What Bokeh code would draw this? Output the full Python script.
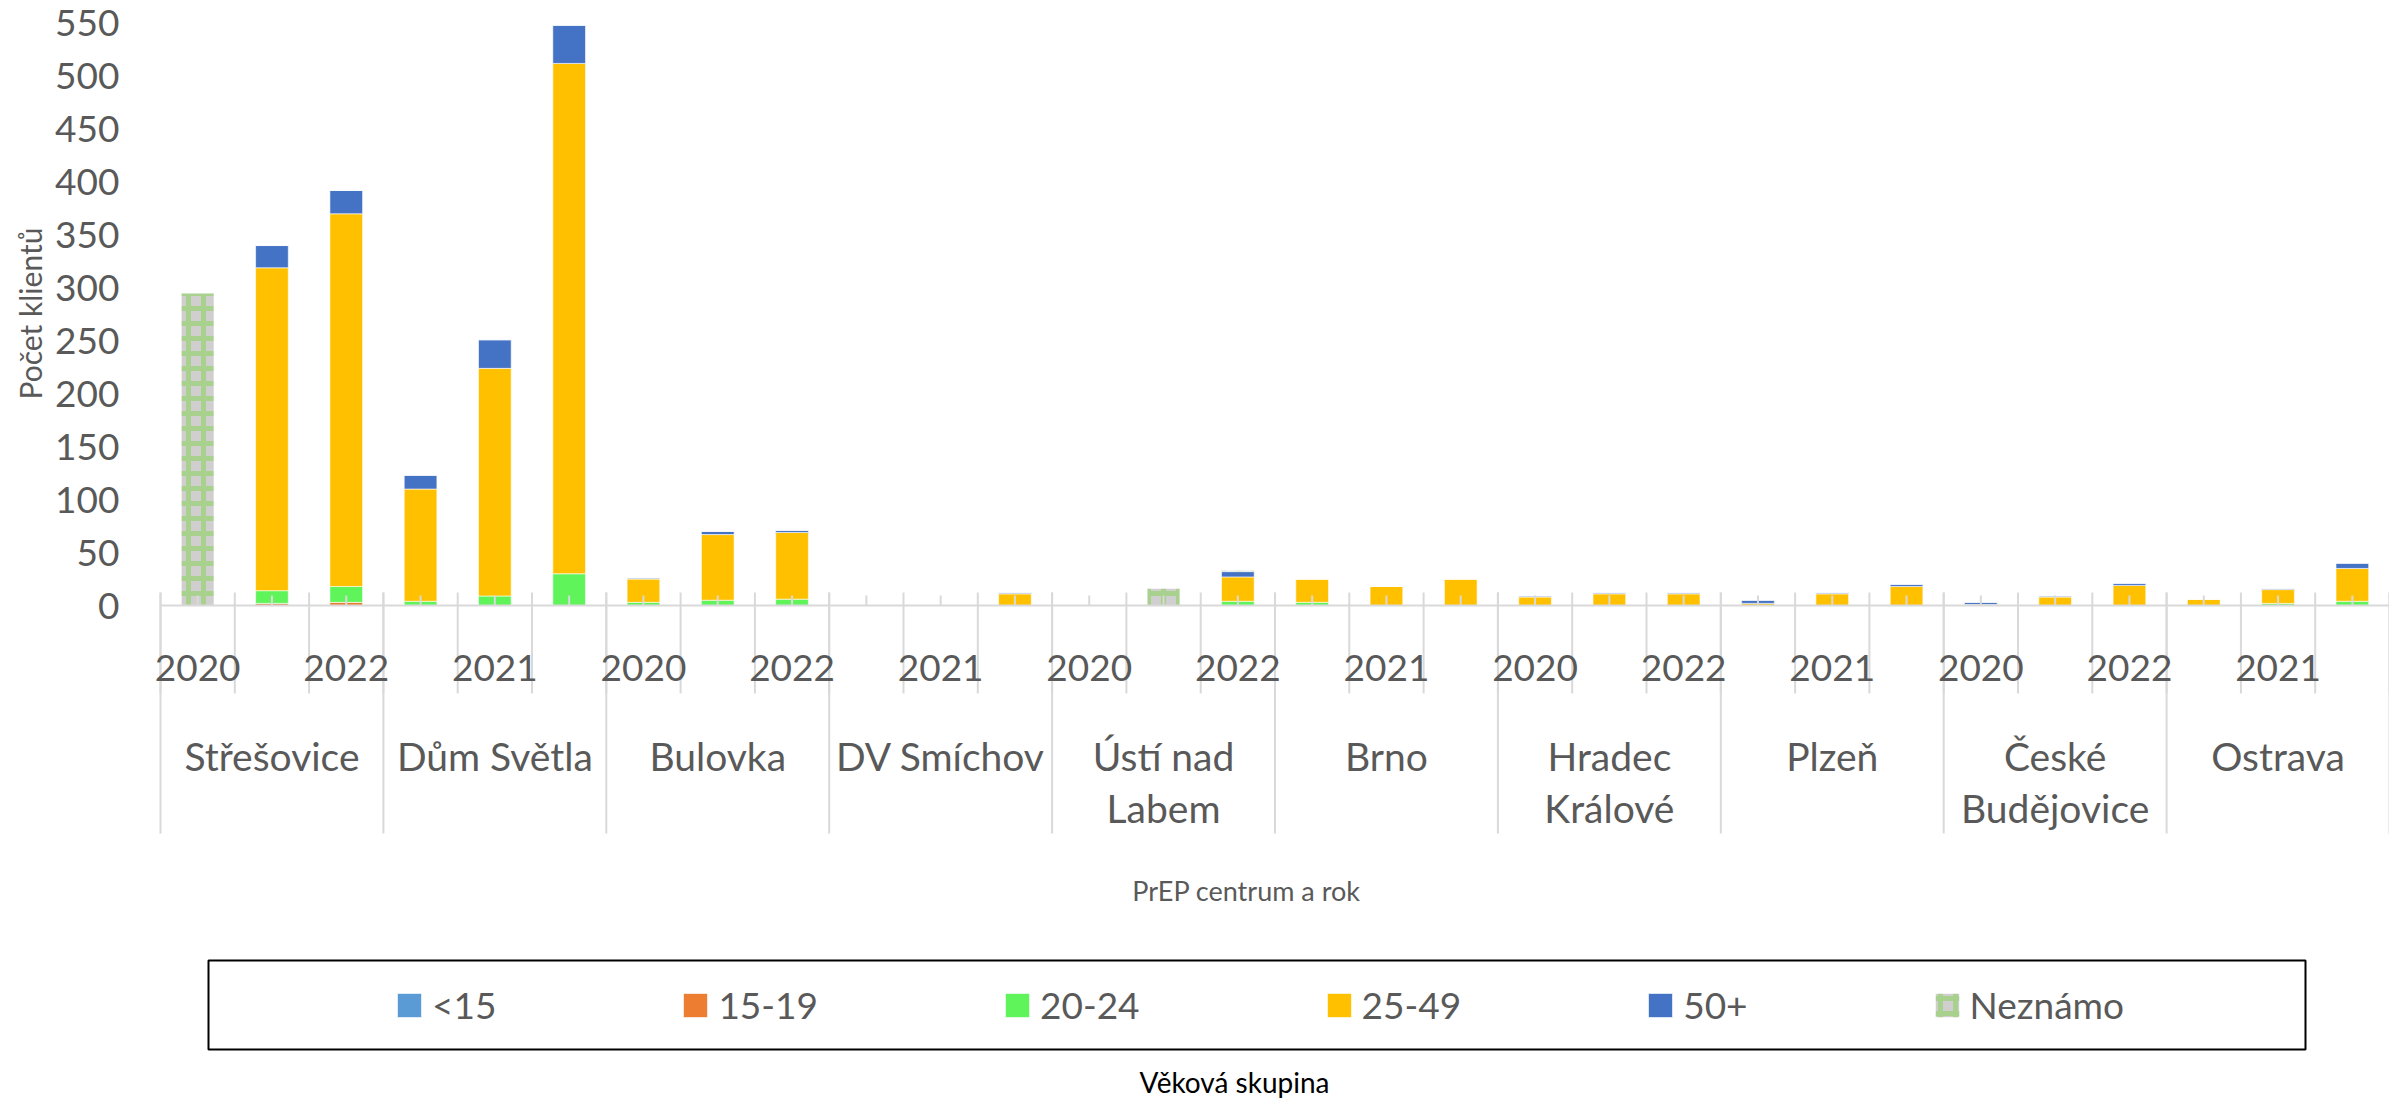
import math
from bokeh.plotting import figure
from bokeh.models import Range1d, Legend, LegendItem, ColumnDataSource
from bokeh.core.properties import value
from bokeh.embed import file_html
from bokeh.resources import INLINE

# ---------------- data ----------------
centers = ["Střešovice", "Dům Světla", "Bulovka", "DV Smíchov", "Ústí nad\nLabem",
           "Brno", "Hradec\nKrálové", "Plzeň", "České\nBudějovice", "Ostrava"]
years = ["2020", "2021", "2022"]
age_groups = ["<15", "15-19", "20-24", "25-49", "50+", "Neznámo"]

s_lt15 = [0, 0, 0,  0, 0, 0,  0, 0, 0,  0, 0, 0,  0, 0, 0,  0, 0, 0,  0, 0, 0,  0, 0, 0,  0, 0, 0,  0, 0, 0]
s_15_19 = [0, 2, 3,  0, 0, 0,  0, 0, 0,  0, 0, 0,  0, 0, 0,  0, 0, 0,  0, 0, 0,  0, 0, 0,  0, 0, 0,  0, 0, 0]
s_20_24 = [0, 12, 15,  4, 9, 30,  3, 5, 6,  0, 0, 0,  0, 0, 4,  3, 0, 0,  0, 0, 0,  0, 0, 0,  0, 0, 0,  0, 2, 4]
s_25_49 = [0, 305, 352,  106, 215, 482,  22, 62, 63,  0, 0, 11,  0, 0, 23,  22, 18, 25,  8, 11, 11,  2, 11, 18,  1, 8, 19,  6, 13, 31]
s_50p = [0, 21, 22,  13, 27, 36,  1, 3, 2,  0, 0, 1,  0, 0, 5,  0, 0, 0,  1, 1, 1,  3, 1, 2,  2, 1, 2,  0, 1, 5]
s_unknown = [295, 0, 0,  0, 0, 0,  0, 0, 0,  0, 0, 0,  0, 16, 1,  0, 0, 0,  0, 0, 0,  0, 0, 0,  0, 0, 0,  0, 0, 0]

y_ticks = [0, 50, 100, 150, 200, 250, 300, 350, 400, 450, 500, 550]

series = [s_lt15, s_15_19, s_20_24, s_25_49, s_50p, s_unknown]
colors = ["#5b9bd5", "#ed7d31", "#5ff55a", "#ffc000", "#4472c4", "#d0cece"]

FONT = value("Lato")
TXT = "#595959"
AXC = "#d9d9d9"
W, H = 2389, 1101

# ---------------- pixel <-> data helpers (layout only) ----------------
HS = 74.3 / 2.0                 # px per half category slot
PX = (605 - 22.7) / 550.0       # px per client
def X(px):
    return (px - 160) / HS
def Y(py):
    return (605 - py) / PX

n_slots = len(centers) * len(years)
xs = [2 * i + 1 for i in range(n_slots)]          # bar centres (half-slot units)
slot_edges = [2 * i for i in range(n_slots + 1)]
group_edges = [6 * g for g in range(len(centers) + 1)]
group_mid = [6 * g + 3 for g in range(len(centers))]

p = figure(width=W, height=H,
           x_range=Range1d(X(0), X(W)), y_range=Range1d(Y(H), Y(0)),
           output_backend="svg", toolbar_location=None,
           x_axis_type=None, y_axis_type=None, min_border=0)
p.outline_line_color = None
p.background_fill_color = "white"

# ---------------- stacked bars ----------------
renderers = []
bottom = [0] * n_slots
for name, vals, col in zip(age_groups, series, colors):
    top = [b + v for b, v in zip(bottom, vals)]
    src = ColumnDataSource(dict(x=xs, bottom=bottom, top=top))
    kw = dict(fill_color=col, line_color="white", line_width=1, line_alpha=0.6)
    if name == "Neznámo":
        kw.update(hatch_pattern="cross", hatch_color="#a9d18e", hatch_scale=15, hatch_weight=5)
    r = p.vbar(x="x", bottom="bottom", top="top", width=0.88, source=src, **kw)
    renderers.append(r)
    bottom = top

# ---------------- category axis (drawn) ----------------
p.segment(x0=[slot_edges[0]], y0=[0], x1=[slot_edges[-1]], y1=[0], line_color=AXC, line_width=2)
p.segment(x0=xs, y0=[0] * n_slots, x1=xs, y1=[10 / PX] * n_slots, line_color=AXC, line_width=2)
p.segment(x0=slot_edges, y0=[13 / PX] * len(slot_edges), x1=slot_edges, y1=[Y(693)] * len(slot_edges),
          line_color=AXC, line_width=2)
p.segment(x0=group_edges, y0=[13 / PX] * len(group_edges), x1=group_edges, y1=[Y(833)] * len(group_edges),
          line_color=AXC, line_width=2)

yl_x = [xs[i] for i in range(n_slots) if i % 2 == 0]
yl_t = [years[i % 3] for i in range(n_slots) if i % 2 == 0]
p.text(x=yl_x, y=[Y(667)] * len(yl_x), text=yl_t, text_align="center", text_baseline="middle",
       text_font=FONT, text_font_size="37px", text_color=TXT)

g1 = [c.split("\n")[0] for c in centers]
p.text(x=group_mid, y=[Y(755)] * len(group_mid), text=g1, text_align="center", text_baseline="middle",
       text_font=FONT, text_font_size="39px", text_color=TXT)
g2x = [m for m, c in zip(group_mid, centers) if "\n" in c]
g2 = [c.split("\n")[1] for c in centers if "\n" in c]
p.text(x=g2x, y=[Y(807)] * len(g2x), text=g2, text_align="center", text_baseline="middle",
       text_font=FONT, text_font_size="39px", text_color=TXT)

p.text(x=[X(1246)], y=[Y(890)], text=["PrEP centrum a rok"], text_align="center", text_baseline="middle",
       text_font=FONT, text_font_size="27px", text_color=TXT)

# ---------------- value axis (drawn) ----------------
p.text(x=[X(119)] * len(y_ticks), y=y_ticks, text=[str(t) for t in y_ticks], text_align="right",
       text_baseline="middle", text_font=FONT, text_font_size="37px", text_color=TXT)
p.text(x=[X(29)], y=[Y(313)], text=["Počet klientů"], angle=math.pi / 2, text_align="center",
       text_baseline="middle", text_font=FONT, text_font_size="30px", text_color=TXT)

# ---------------- legend ----------------
p.quad(left=[X(208)], right=[X(2305)], top=[Y(960)], bottom=[Y(1049)], fill_color=None,
       line_color="black", line_width=2)
legend = Legend(items=[LegendItem(label=n, renderers=[r]) for n, r in zip(age_groups, renderers)],
                location=(394, 74), orientation="horizontal", spacing=184,
                glyph_width=30, glyph_height=30, label_standoff=8,
                label_text_font="Lato", label_text_font_size="37px", label_text_color=TXT,
                border_line_color=None, background_fill_alpha=0, padding=0, margin=0)
p.add_layout(legend, "center")
p.text(x=[X(1234)], y=[Y(1081)], text=["Věková skupina"], text_align="center", text_baseline="middle",
       text_font=FONT, text_font_size="28px", text_color="black")

open("out.html", "w").write(file_html(p, INLINE))
